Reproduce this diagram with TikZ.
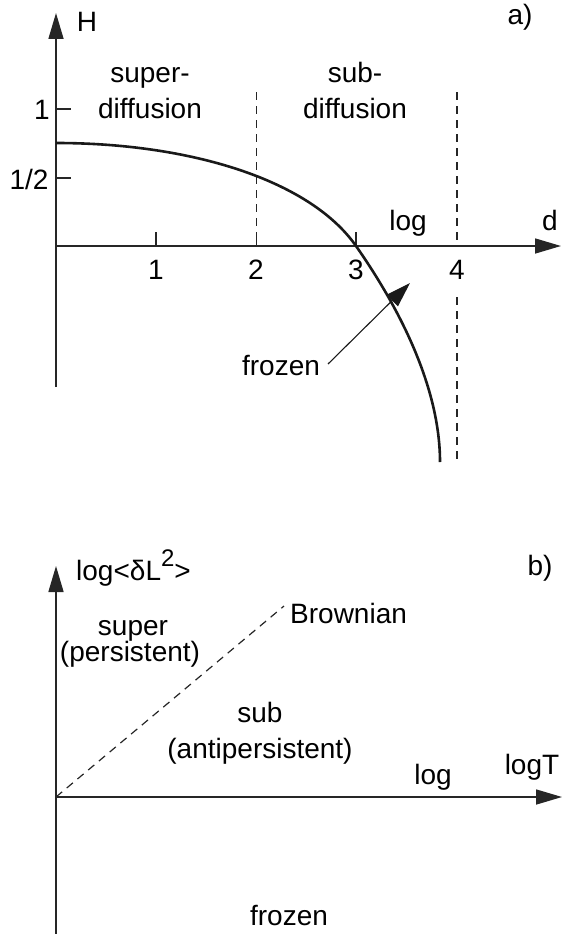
\documentclass[tikz,border=0pt]{standalone}
\usepackage{fontspec}
\setmainfont{Liberation Sans}
\usetikzlibrary{arrows.meta}
\begin{document}
\begin{tikzpicture}[x=1pt,y=-1pt,
  lbl/.style={inner sep=0pt,anchor=base,font=\fontsize{28}{32}\selectfont},
  axis/.style={line width=1.6pt,draw=black!85,-{Triangle[length=26pt,width=15pt]}},
  plain/.style={line width=1.6pt,draw=black!85},
  dsh/.style={line width=1.2pt,draw=black!85,dash pattern=on 8pt off 6pt},
  curve/.style={line width=2.6pt,draw=black!90},
  pointer/.style={line width=1.1pt,draw=black!90,-{Triangle[length=25pt,width=16pt]}}]
\useasboundingbox (0,0) rectangle (563,934);
% ---------- panel a ----------
\coordinate (aO) at (56,246);
\coordinate (aYb) at (56,387);
\coordinate (aYt) at (56,13);
\coordinate (aXe) at (561,246);
\draw[plain] (aYb) -- (aO);
\draw[axis] (aO) -- (aYt);
\draw[axis] (aO) -- (aXe);
% ticks
\coordinate (t1a) at (156,232); \coordinate (t1b) at (156,246);
\coordinate (t2a) at (256.5,232); \coordinate (t2b) at (256.5,246);
\coordinate (t3a) at (356,232); \coordinate (t3b) at (356,246);
\draw[plain] (t1a) -- (t1b);
\draw[plain] (t2a) -- (t2b);
\draw[plain] (t3a) -- (t3b);
\coordinate (y1a) at (56,109); \coordinate (y1b) at (71,109);
\coordinate (y2a) at (56,178); \coordinate (y2b) at (71,178);
\draw[plain] (y1a) -- (y1b);
\draw[plain] (y2a) -- (y2b);
% dashed verticals
\coordinate (d2t) at (256.5,92); \coordinate (d2b) at (256.5,246);
\coordinate (d4t) at (457,92); \coordinate (d4m) at (457,246);
\coordinate (d4u) at (457,297); \coordinate (d4b) at (457,462);
\draw[dsh] (d2t) -- (d2b);
\draw[dsh] (d4t) -- (d4m);
\draw[dsh] (d4u) -- (d4b);
% curve
\coordinate (cS) at (56,143);
\coordinate (cM) at (356,246);
\coordinate (cE) at (440,462);
\draw[curve] (cS) .. controls (190,143) and (310,180) .. (cM)
                   .. controls (391,296) and (440,380) .. (cE);
% labels
\node[lbl] (H) at (87,32) {H};
\node[lbl] (a) at (520,25) {a)};
\node[lbl] (d) at (550,230) {d};
\node[lbl] (loga) at (408,230) {log};
\node[lbl] (sup1) at (150,82) {super-};
\node[lbl] (sup2) at (150,118) {diffusion};
\node[lbl] (sub1) at (355,82) {sub-};
\node[lbl] (sub2) at (355,118) {diffusion};
\node[lbl] (y1) at (42,119) {1};
\node[lbl] (y2) at (29,189) {1/2};
\node[lbl] (x1) at (156,279) {1};
\node[lbl] (x2) at (256,279) {2};
\node[lbl] (x3) at (356,279) {3};
\node[lbl] (x4) at (457,279) {4};
\node[lbl] (frza) at (281,375) {frozen};
\coordinate (frzs) at (328,364);
\coordinate (frzt) at (410,283);
\draw[pointer] (frzs) -- (frzt);
% ---------- panel b ----------
\coordinate (bO) at (56,797);
\coordinate (bYb) at (56,934);
\coordinate (bYt) at (56,566);
\coordinate (bXe) at (562,797);
\draw[plain] (bYb) -- (bO);
\draw[axis] (bO) -- (bYt);
\draw[axis] (bO) -- (bXe);
\coordinate (brw) at (284,606);
\draw[dsh] (bO) -- (brw);
\node[lbl,anchor=base west] (ylab) at (76,580) {log<δL\raisebox{0.47em}{\fontsize{24}{24}\selectfont 2}>};
\node[lbl] (b) at (540,575) {b)};
\node[lbl,anchor=base west] (brown) at (290,623) {Brownian};
\node[lbl] (sup) at (133,635) {super};
\node[lbl] (pers) at (130,661) {(persistent)};
\node[lbl] (sb) at (260,722) {sub};
\node[lbl] (anti) at (260,758) {(antipersistent)};
\node[lbl] (logb) at (433,784) {log};
\node[lbl] (logT) at (532,774) {logT};
\node[lbl] (frzb) at (289,925) {frozen};
\end{tikzpicture}
\end{document}
